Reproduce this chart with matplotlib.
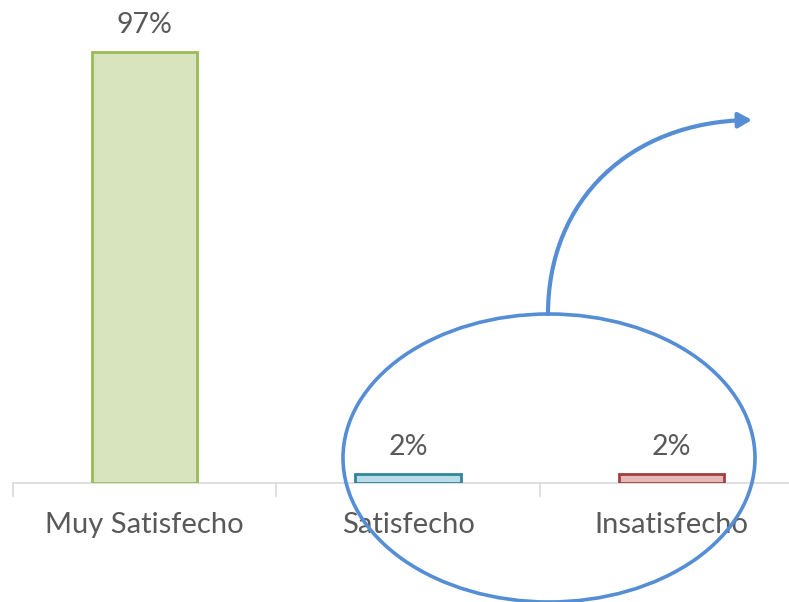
import matplotlib

matplotlib.use("Agg")
import matplotlib.pyplot as plt  # noqa: E402
from matplotlib.patches import Ellipse, FancyArrowPatch  # noqa: E402
from matplotlib.path import Path  # noqa: E402

categories = ["Muy Satisfecho", "Satisfecho", "Insatisfecho"]
values = [97, 2, 2]
labels = ["97%", "2%", "2%"]
fills = ["#D7E4BD", "#B7DEE8", "#E6B9B8"]
edges = ["#9BBB59", "#31859C", "#A0413F"]

W, H = 789, 602
fig = plt.figure(figsize=(W / 100, H / 100), dpi=100)
plt.rcParams["font.family"] = ["Lato", "DejaVu Sans"]

# axis from x=13 to x=803 px, baseline at y=483 px
ax = fig.add_axes([13 / W, (H - 483) / H, 790 / W, 483 / H])
x = range(len(categories))
ax.bar(x, values, width=0.4, color=fills, edgecolor=edges, linewidth=2, zorder=3)
for i, (v, lab) in enumerate(zip(values, labels)):
    ax.annotate(lab, (i, v), xytext=(0, 10), textcoords="offset points",
                ha="center", va="bottom", fontsize=20.5, color="#595959")

ax.set_xlim(-0.5, 2.5)
ax.set_ylim(0, 108.7)
ax.set_xticks([-0.5, 0.5, 1.5, 2.5])
ax.set_xticklabels([])
ax.set_xticks(list(x), minor=True)
ax.set_xticklabels(categories, minor=True, fontsize=21, color="#595959")
ax.tick_params(axis="x", which="major", length=10, color="#D9D9D9", width=1.2)
ax.tick_params(axis="x", which="minor", length=0, pad=21)
ax.set_yticks([])
for s in ("top", "right", "left"):
    ax.spines[s].set_visible(False)
ax.spines["bottom"].set_color("#D9D9D9")
ax.spines["bottom"].set_linewidth(1.2)

# overlay in pixel coordinates for the ellipse and the arrow
ov = fig.add_axes([0, 0, 1, 1], facecolor="none")
ov.set_xlim(0, W)
ov.set_ylim(H, 0)
ov.axis("off")
blue = "#558ED5"
ov.add_patch(Ellipse((549, 458), 412, 288, fill=False, edgecolor=blue, linewidth=2.6, zorder=5))
curve = Path([(548, 314), (548, 200), (630, 122), (752, 120)],
             [Path.MOVETO, Path.CURVE4, Path.CURVE4, Path.CURVE4])
ov.add_patch(FancyArrowPatch(path=curve, arrowstyle="-|>,head_length=8,head_width=4.5",
                             color=blue, linewidth=3.0, zorder=5))

fig.savefig("out.png", dpi=100)
